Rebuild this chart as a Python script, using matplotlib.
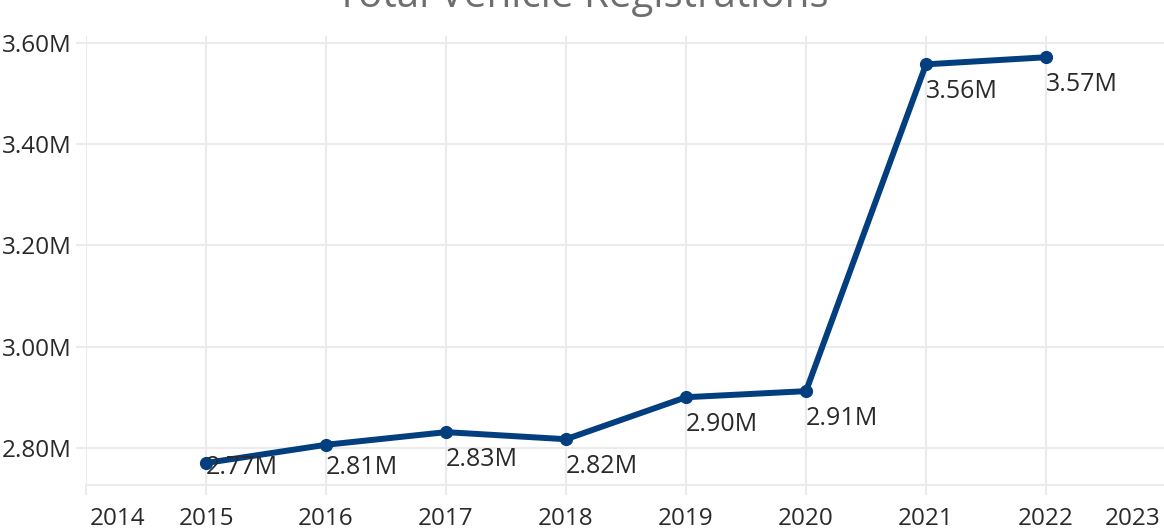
import numpy as np
import matplotlib
matplotlib.use("Agg")
import matplotlib.pyplot as plt
import matplotlib.transforms as mtransforms

plt.rcParams['font.family'] = ['Open Sans', 'DejaVu Sans']

years = [2015, 2016, 2017, 2018, 2019, 2020, 2021, 2022]
registrations = [2.770, 2.806, 2.831, 2.817, 2.900, 2.912, 3.558, 3.572]  # millions
x_ticks = list(range(2014, 2024))
y_ticks = [2.8, 3.0, 3.2, 3.4, 3.6]

W, H = 1164, 530
fig = plt.figure(figsize=(W / 100, H / 100), dpi=100)
ax = fig.add_axes([86 / W, 1 - 485 / H, 1080 / W, 449 / H])

line_color = '#033f7f'
grid_color = '#ebebeb'
text_color = '#2a2a2a'

ax.plot(years, registrations, color=line_color, lw=4.3, marker='o', ms=8.5,
        solid_joinstyle='round', zorder=3)

ax.set_xlim(2014, 2023)
ax.set_ylim(2.7265, 3.614)

ax.set_xticks(x_ticks)
ax.set_xticklabels([str(y) for y in x_ticks])
ax.set_yticks(y_ticks)
ax.set_yticklabels([f"{v:.2f}M" for v in y_ticks])

ax.grid(True, color=grid_color, lw=1.5)
ax.set_axisbelow(True)
for s in ['top', 'right', 'left']:
    ax.spines[s].set_visible(False)
ax.spines['bottom'].set_color(grid_color)
ax.spines['bottom'].set_linewidth(1.5)

ax.tick_params(axis='both', colors=grid_color, width=1.5, length=7,
               labelcolor=text_color, labelsize=17.5)
ax.tick_params(axis='x', pad=9)
ax.tick_params(axis='y', pad=3.5)

# keep edge year labels inside the figure
labels = ax.get_xticklabels()
labels[0].set_ha('left')
labels[0].set_transform(labels[0].get_transform() +
                        mtransforms.ScaledTranslation(4 / 100, 0, fig.dpi_scale_trans))
labels[-1].set_ha('right')
labels[-1].set_transform(labels[-1].get_transform() +
                         mtransforms.ScaledTranslation(-6 / 100, 0, fig.dpi_scale_trans))

for x, v in zip(years, registrations):
    ly = max(v - 0.054, 2.762)
    ax.text(x, ly, f"{v:.2f}M", ha='left', va='center', fontsize=18,
            color=text_color, zorder=4)

fig.text(0.5, 1 - 7 / H, "Total Vehicle Registrations", ha='center',
         va='baseline', fontsize=29, color='#6e6e6e')

fig.savefig("out.png", dpi=100)
